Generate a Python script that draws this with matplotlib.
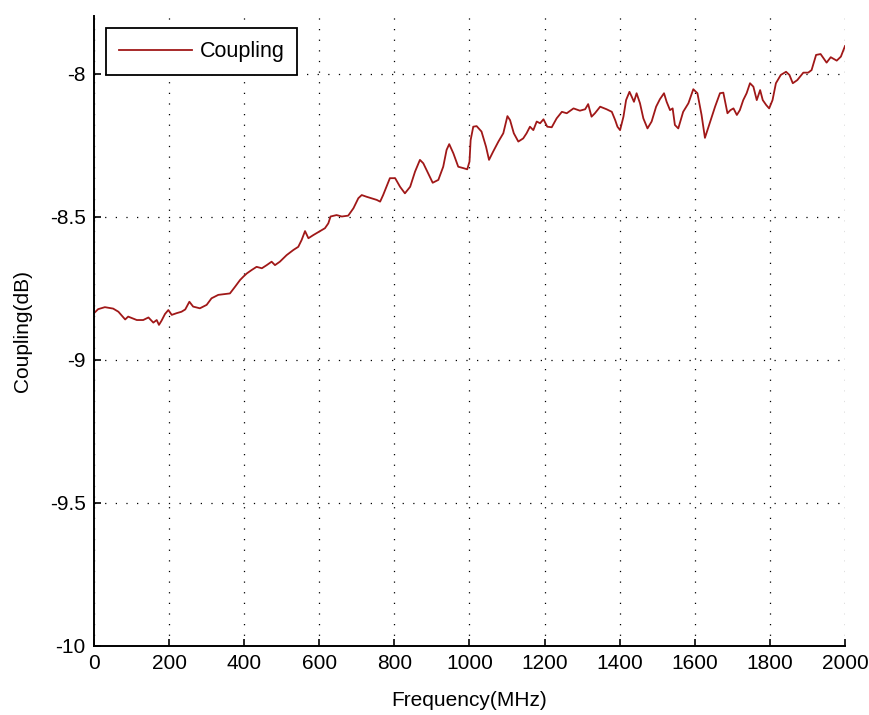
import numpy as np
import matplotlib
matplotlib.use("Agg")
import matplotlib.pyplot as plt

# measured coupling vs frequency
freq_mhz = [0, 11, 29, 51, 65, 83, 91, 114, 131, 145, 158, 167, 173, 180, 189, 198,
            207, 220, 233, 243, 254, 264, 282, 300, 313, 331, 349, 362, 376, 389, 398,
            407, 420, 433, 447, 460, 473, 482, 495, 513, 531, 544, 553, 562, 571, 584,
            602, 615, 624, 630, 646, 660, 677, 691, 704, 713, 726, 753, 762, 770, 788,
            802, 815, 828, 842, 855, 868, 877, 890, 902, 917, 930, 939, 946, 957, 970,
            984, 994, 1000, 1003, 1010, 1019, 1032, 1044, 1052, 1063, 1077, 1090, 1101,
            1108, 1118, 1130, 1143, 1152, 1161, 1170, 1179, 1188, 1197, 1207, 1219,
            1232, 1246, 1259, 1277, 1294, 1308, 1316, 1325, 1334, 1348, 1365, 1379,
            1388, 1394, 1401, 1410, 1417, 1426, 1432, 1438, 1445, 1454, 1463, 1474,
            1485, 1497, 1507, 1518, 1525, 1534, 1541, 1547, 1556, 1569, 1583, 1596,
            1607, 1618, 1627, 1641, 1654, 1667, 1676, 1687, 1695, 1703, 1712, 1720,
            1729, 1738, 1747, 1756, 1765, 1774, 1781, 1790, 1798, 1807, 1816, 1829,
            1843, 1852, 1861, 1873, 1889, 1902, 1911, 1923, 1935, 1951, 1962, 1978,
            1989, 2000]
coupling_db = [-8.838, -8.824, -8.817, -8.822, -8.833, -8.860, -8.850, -8.862, -8.862,
               -8.853, -8.871, -8.862, -8.879, -8.864, -8.841, -8.827, -8.844, -8.838,
               -8.833, -8.825, -8.798, -8.815, -8.821, -8.809, -8.786, -8.774, -8.771,
               -8.769, -8.745, -8.722, -8.710, -8.699, -8.687, -8.676, -8.681, -8.670,
               -8.658, -8.670, -8.658, -8.635, -8.617, -8.606, -8.582, -8.551, -8.576,
               -8.565, -8.551, -8.541, -8.524, -8.500, -8.495, -8.500, -8.497, -8.471,
               -8.436, -8.425, -8.431, -8.442, -8.448, -8.425, -8.366, -8.366, -8.396,
               -8.419, -8.396, -8.343, -8.302, -8.314, -8.349, -8.382, -8.372, -8.326,
               -8.267, -8.247, -8.279, -8.326, -8.331, -8.335, -8.308, -8.233, -8.186,
               -8.184, -8.203, -8.256, -8.302, -8.273, -8.238, -8.209, -8.149, -8.163,
               -8.209, -8.238, -8.227, -8.209, -8.186, -8.198, -8.168, -8.174, -8.160,
               -8.186, -8.188, -8.157, -8.134, -8.139, -8.122, -8.130, -8.125, -8.107,
               -8.151, -8.139, -8.116, -8.125, -8.134, -8.163, -8.186, -8.198, -8.151,
               -8.093, -8.064, -8.081, -8.099, -8.069, -8.104, -8.157, -8.192, -8.168,
               -8.116, -8.090, -8.069, -8.099, -8.128, -8.122, -8.180, -8.192, -8.134,
               -8.104, -8.055, -8.069, -8.145, -8.225, -8.168, -8.116, -8.069, -8.067,
               -8.139, -8.128, -8.122, -8.145, -8.128, -8.093, -8.069, -8.034, -8.046,
               -8.093, -8.058, -8.093, -8.110, -8.122, -8.093, -8.034, -8.005, -7.994,
               -8.005, -8.034, -8.023, -7.997, -7.997, -7.988, -7.935, -7.932, -7.962,
               -7.943, -7.955, -7.941, -7.904]

x_ticks = np.arange(0, 2001, 200)
y_ticks = [-10, -9.5, -9, -8.5, -8]
y_labels = ["-10", "-9.5", "-9", "-8.5", "-8"]

plt.rcParams['font.family'] = ['Liberation Sans', 'DejaVu Sans']
plt.rcParams['axes.unicode_minus'] = False

fig = plt.figure(figsize=(8.7, 7.15), dpi=100)
ax = fig.add_axes([94 / 870, 1 - 645.5 / 715, 751 / 870, 629.2 / 715])

ax.plot(freq_mhz, coupling_db, color='#a01818', lw=1.3, label='Coupling')

ax.set_xlim(0, 2000)
ax.set_ylim(-10, -7.8)
ax.set_xticks(x_ticks)
ax.set_xticklabels([str(v) for v in x_ticks])
ax.set_yticks(y_ticks)
ax.set_yticklabels(y_labels)

ax.grid(True, color='black', linestyle=(0, (1, 7.5)), linewidth=0.9)
for side in ['top', 'right']:
    ax.spines[side].set_visible(False)
for side in ['left', 'bottom']:
    ax.spines[side].set_linewidth(1.4)

ax.tick_params(direction='in', length=5, width=1.2, labelsize=15, pad=6)
ax.set_xlabel('Frequency(MHz)', fontsize=15, labelpad=13)
ax.set_ylabel('Coupling(dB)', fontsize=15, labelpad=13)

leg = ax.legend(loc='upper left', bbox_to_anchor=(0.016, 0.981), borderaxespad=0,
                fancybox=False, framealpha=1, edgecolor='black', fontsize=15.5,
                handlelength=3.4, handletextpad=0.35, borderpad=0.6)
leg.get_frame().set_linewidth(1.3)

fig.savefig('out.png', dpi=100)
